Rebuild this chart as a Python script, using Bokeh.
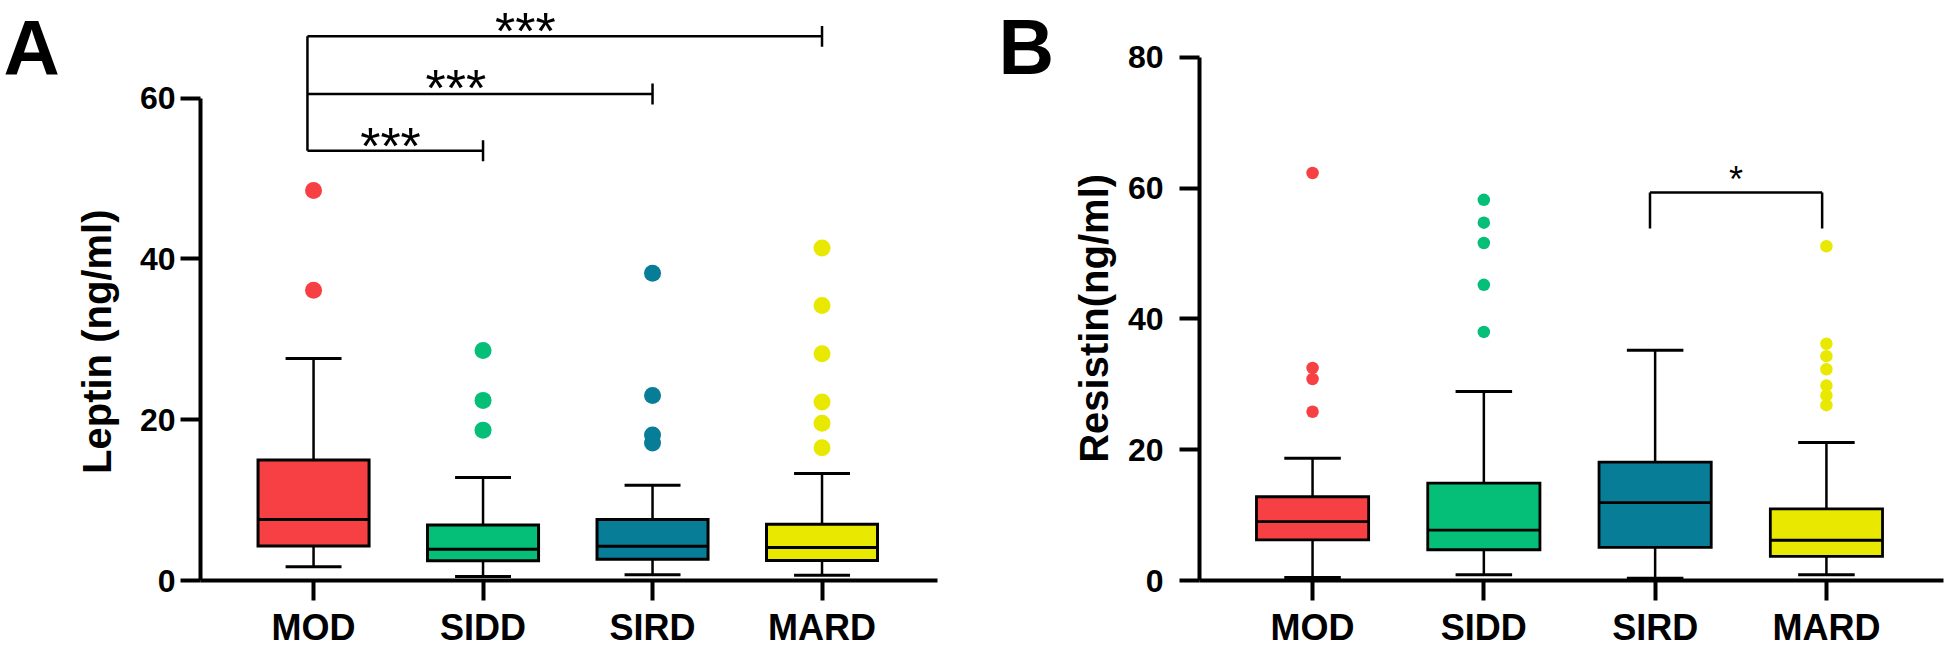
import math
from bokeh.plotting import figure
from bokeh.layouts import row
from bokeh.models import FixedTicker, Range1d, ColumnDataSource
from bokeh.embed import file_html
from bokeh.resources import INLINE
from bokeh.core.properties import value

# ---------------- data ----------------
groups = ["MOD", "SIDD", "SIRD", "MARD"]
group_colors = ["#F74043", "#05BF78", "#087D98", "#E8E800"]

# Panel A: Leptin (ng/ml)
leptin_low = [1.7, 0.5, 0.7, 0.65]
leptin_q1 = [4.3, 2.45, 2.65, 2.5]
leptin_median = [7.6, 3.9, 4.25, 4.1]
leptin_q3 = [15.0, 6.9, 7.6, 7.0]
leptin_high = [27.6, 12.8, 11.85, 13.3]
leptin_outliers = [
    [48.5, 36.1],
    [28.6, 22.4, 18.7],
    [38.2, 23.0, 18.1, 17.1],
    [41.35, 34.2, 28.2, 22.2, 19.55, 16.5],
]
leptin_ticks = [0, 20, 40, 60]
leptin_pairs = [("MOD", "SIDD"), ("MOD", "SIRD"), ("MOD", "MARD")]
leptin_pair_levels = [53.45, 60.5, 67.67]
leptin_pair_labels = ["***", "***", "***"]

# Panel B: Resistin (ng/ml)
resistin_low = [0.46, 0.87, 0.35, 0.87]
resistin_q1 = [6.2, 4.7, 5.07, 3.7]
resistin_median = [9.0, 7.7, 11.9, 6.15]
resistin_q3 = [12.8, 14.9, 18.1, 10.95]
resistin_high = [18.7, 28.9, 35.2, 21.1]
resistin_outliers = [
    [62.3, 32.5, 30.8, 25.8],
    [58.2, 54.7, 51.6, 45.2, 38.0],
    [],
    [51.1, 36.2, 34.3, 32.3, 29.8, 28.3, 26.8],
]
resistin_ticks = [0, 20, 40, 60, 80]
resistin_pairs = [("SIRD", "MARD")]
resistin_pair_levels = [59.3]
resistin_pair_labels = ["*"]

FONT = "Liberation Sans"
H = 650
BOTTOM = 67


def style_axes(p, ylabel_standoff, yticks, ybound, xbound):
    yax = p.yaxis[0]
    xax = p.xaxis[0]
    for ax in (xax, yax):
        ax.axis_line_width = 4
        ax.axis_line_color = "black"
        ax.major_tick_line_width = 4
        ax.major_tick_line_color = "black"
        ax.major_tick_in = 0
        ax.minor_tick_line_color = None
        ax.major_label_text_font = FONT
        ax.major_label_text_font_style = "bold"
        ax.major_label_text_color = "black"
    yax.ticker = FixedTicker(ticks=yticks)
    yax.bounds = ybound
    yax.major_tick_out = 20
    yax.major_label_standoff = ylabel_standoff
    yax.major_label_text_font_size = "32px"
    xax.ticker = FixedTicker(ticks=[1, 2, 3, 4])
    xax.major_label_overrides = {i + 1: g for i, g in enumerate(groups)}
    xax.bounds = xbound
    xax.major_tick_out = 20
    xax.major_label_standoff = 6
    xax.major_label_text_font_size = "36px"


def draw_boxes(p, low, q1, med, q3, high, outliers, marker_size, box_lw):
    xs = [i + 1 for i in range(len(groups))]
    bw = 0.655
    cw = 0.33
    src = ColumnDataSource(dict(
        x=xs, lo=low, q1=q1, med=med, q3=q3, hi=high, color=group_colors,
        bl=[x - bw / 2 for x in xs], br=[x + bw / 2 for x in xs],
        cl=[x - cw / 2 for x in xs], cr=[x + cw / 2 for x in xs],
    ))
    p.segment(x0="x", y0="q3", x1="x", y1="hi", source=src, line_color="black", line_width=2.5)
    p.segment(x0="x", y0="q1", x1="x", y1="lo", source=src, line_color="black", line_width=2.5)
    p.segment(x0="cl", y0="hi", x1="cr", y1="hi", source=src, line_color="black", line_width=3)
    p.segment(x0="cl", y0="lo", x1="cr", y1="lo", source=src, line_color="black", line_width=3)
    p.vbar(x="x", width=bw, bottom="q1", top="q3", source=src, fill_color="color",
           line_color="black", line_width=box_lw, line_join="miter")
    p.segment(x0="bl", y0="med", x1="br", y1="med", source=src, line_color="black", line_width=box_lw)
    ox, oy, oc = [], [], []
    for i, vals in enumerate(outliers):
        for v in vals:
            ox.append(i + 1)
            oy.append(v)
            oc.append(group_colors[i])
    p.scatter(x=ox, y=oy, size=marker_size, fill_color=oc, line_color=None)


def make_fig(width, xr, yr, left_border):
    p = figure(width=width, height=H, x_range=Range1d(*xr), y_range=Range1d(*yr),
               output_backend="svg", toolbar_location=None,
               min_border_left=left_border, min_border_right=0,
               min_border_top=0, min_border_bottom=BOTTOM,
               background_fill_color="white", border_fill_color="white",
               outline_line_color=None)
    p.grid.visible = False
    return p


def label_fig(width, letter, letter_x, letter_y, letter_size, ylabel, ylabel_x, ylabel_cy):
    """Strip holding the panel letter and the rotated y-axis title (pixel space, y up)."""
    p = figure(width=width, height=H, x_range=Range1d(0, width), y_range=Range1d(BOTTOM, H),
               output_backend="svg", toolbar_location=None,
               min_border_left=0, min_border_right=0, min_border_top=0,
               min_border_bottom=BOTTOM,
               x_axis_location=None, y_axis_location=None,
               background_fill_color="white", border_fill_color="white",
               outline_line_color=None)
    p.grid.visible = False
    p.text(x=[letter_x], y=[H - letter_y], text=[letter], text_align="left",
           text_baseline="alphabetic", text_font=value(FONT), text_font_style="bold",
           text_font_size=letter_size, text_color="black")
    p.text(x=[ylabel_x], y=[H - ylabel_cy], text=[ylabel], angle=math.pi / 2,
           text_align="center", text_baseline="alphabetic", text_font=value(FONT),
           text_font_style="bold", text_font_size="40px", text_color="black")
    return p


gi = {g: i + 1 for i, g in enumerate(groups)}

# ---------------- Panel A ----------------
la = label_fig(125, "A", 3, 48, "78px", "Leptin (ng/ml)", 96, 343)
pa = make_fig(865, (0.333, 4.994), (0, 72.13), 75)
draw_boxes(pa, leptin_low, leptin_q1, leptin_median, leptin_q3, leptin_high,
           leptin_outliers, 17, 3)
style_axes(pa, 5, leptin_ticks, (0, 60), (0.333, 4.684))

a_left = [gi[a] - 0.036 for a, b in leptin_pairs]
a_right = [gi[b] for a, b in leptin_pairs]
pa.segment(x0=a_left, y0=leptin_pair_levels, x1=a_right, y1=leptin_pair_levels,
           line_color="black", line_width=2.5)
pa.segment(x0=a_right, y0=[v - 1.3 for v in leptin_pair_levels], x1=a_right,
           y1=[v + 1.3 for v in leptin_pair_levels], line_color="black", line_width=2.5)
pa.segment(x0=[min(a_left)], y0=[min(leptin_pair_levels)], x1=[min(a_left)],
           y1=[max(leptin_pair_levels)], line_color="black", line_width=2.5)
star_x_a = [1.454, 1.84, 2.25]
star_y_a = [54.09, 61.26, 68.3]
pa.text(x=star_x_a, y=star_y_a, text=leptin_pair_labels, text_align="center",
        text_baseline="alphabetic", text_font=value(FONT), text_font_size="52px",
        text_color="black")

# ---------------- Panel B ----------------
lb = label_fig(130, "B", 8, 47, "77px", "Resistin(ng/ml)", 103, 319.5)
pb = make_fig(826, (0.340, 4.701), (0, 88.67), 79)
draw_boxes(pb, resistin_low, resistin_q1, resistin_median, resistin_q3, resistin_high,
           resistin_outliers, 12.5, 2.8)
style_axes(pb, 16, resistin_ticks, (0, 80), (0.340, 4.683))

b_left = [gi[a] - 0.03 for a, b in resistin_pairs]
b_right = [gi[b] - 0.025 for a, b in resistin_pairs]
b_leg = [v - 5.5 for v in resistin_pair_levels]
pb.segment(x0=b_left, y0=resistin_pair_levels, x1=b_right, y1=resistin_pair_levels,
           line_color="black", line_width=2.5)
pb.segment(x0=b_left, y0=resistin_pair_levels, x1=b_left, y1=b_leg,
           line_color="black", line_width=2.5)
pb.segment(x0=b_right, y0=resistin_pair_levels, x1=b_right, y1=b_leg,
           line_color="black", line_width=2.5)
pb.text(x=[(l + r) / 2 for l, r in zip(b_left, b_right)], y=[61.25], text=resistin_pair_labels,
        text_align="center", text_baseline="alphabetic", text_font=value(FONT),
        text_font_size="36px", text_color="black")

layout = row(la, pa, lb, pb)
open("out.html", "w").write(file_html(layout, INLINE))
